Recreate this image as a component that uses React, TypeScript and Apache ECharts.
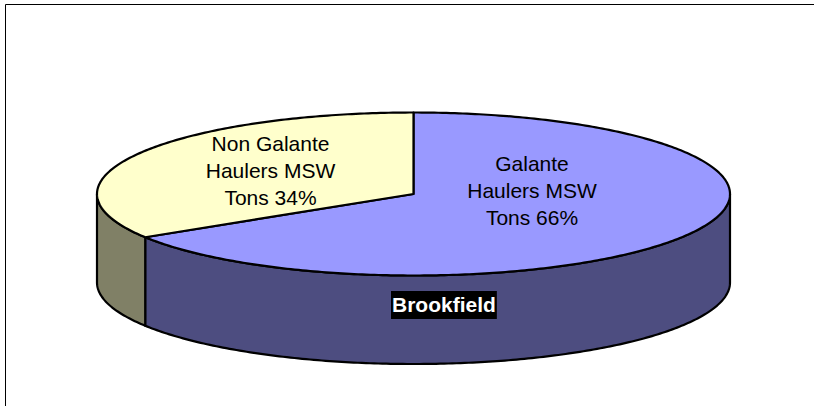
import React, { useEffect, useRef } from "react";
import * as echarts from "echarts";

const sliceNames = ["Galante\nHaulers MSW\nTons", "Non Galante\nHaulers MSW\nTons"];
const sliceValues = [66.1, 33.9];
const topColors = ["#9999FF", "#FFFFCC"];
const wallColors = ["#4D4D80", "#808066"];
const seriesTitle = "Brookfield";

const CX = 413.5;
const CY = 194;
const RX = 316.5;
const RY = 81.5;
const DEPTH = 88.5;
const FONT = "'Liberation Sans', Arial, sans-serif";
const labelCenters = [
  [532, 190.5],
  [270.5, 170.5],
];

const total = sliceValues.reduce((a, b) => a + b, 0);
const pt = (t: number, dy = 0) => [CX + RX * Math.cos(t), CY + RY * Math.sin(t) + dy];

function arc(a: number, b: number, dy = 0) {
  const n = Math.max(2, Math.ceil((Math.abs(b - a) / Math.PI) * 240));
  const out: number[][] = [];
  for (let i = 0; i <= n; i++) out.push(pt(a + ((b - a) * i) / n, dy));
  return out;
}

function renderItem(params: any, api: any) {
  const i = params.dataIndex;
  const before = sliceValues.slice(0, i).reduce((a, b) => a + b, 0);
  const start = -Math.PI / 2 + (before / total) * 2 * Math.PI;
  const end = start + (api.value(0) / total) * 2 * Math.PI;
  const line = { stroke: "#000", lineWidth: 2.2, lineJoin: "round" };
  const children: any[] = [];

  // visible wall: the part of the slice on the front half of the ellipse
  const lo = Math.max(start, 0);
  const hi = Math.min(end, Math.PI);
  if (hi > lo) {
    children.push({
      type: "polygon",
      shape: { points: [...arc(lo, hi), ...arc(hi, lo, DEPTH)] },
      style: { fill: wallColors[i], ...line },
    });
  }
  children.push({
    type: "polygon",
    shape: { points: [[CX, CY], ...arc(start, end)] },
    style: { fill: topColors[i], ...line },
  });
  children.push({
    type: "text",
    style: {
      text: `${sliceNames[i]} ${Math.round(api.value(0))}%`,
      x: labelCenters[i][0],
      y: labelCenters[i][1],
      align: "center",
      verticalAlign: "middle",
      fill: "#000",
      font: `21px ${FONT}`,
      lineHeight: 27,
    },
  });
  return { type: "group", children };
}

export default function App() {
  const ref = useRef<HTMLDivElement>(null);
  useEffect(() => {
    document.body.style.margin = "0";
    const chart = echarts.init(ref.current!, null, { renderer: "svg" });
    chart.setOption({
      animation: false,
      backgroundColor: "#fff",
      title: {
        text: seriesTitle,
        left: 391,
        top: 291,
        padding: [1, 1, 3, 1],
        backgroundColor: "#000",
        textStyle: {
          color: "#fff",
          fontFamily: FONT,
          fontSize: 21,
          fontWeight: "bold",
          lineHeight: 24,
        },
      },
      graphic: [
        {
          type: "polyline",
          silent: true,
          shape: { points: [[5.5, 406], [5.5, 4.5], [814, 4.5]] },
          style: { fill: "none", stroke: "#000", lineWidth: 1 },
        },
      ],
      series: [
        {
          type: "custom",
          coordinateSystem: "none",
          renderItem,
          data: sliceValues.map((v) => [v]),
        },
      ],
    });
    return () => chart.dispose();
  }, []);
  return <div ref={ref} style={{ width: 814, height: 406 }} />;
}
